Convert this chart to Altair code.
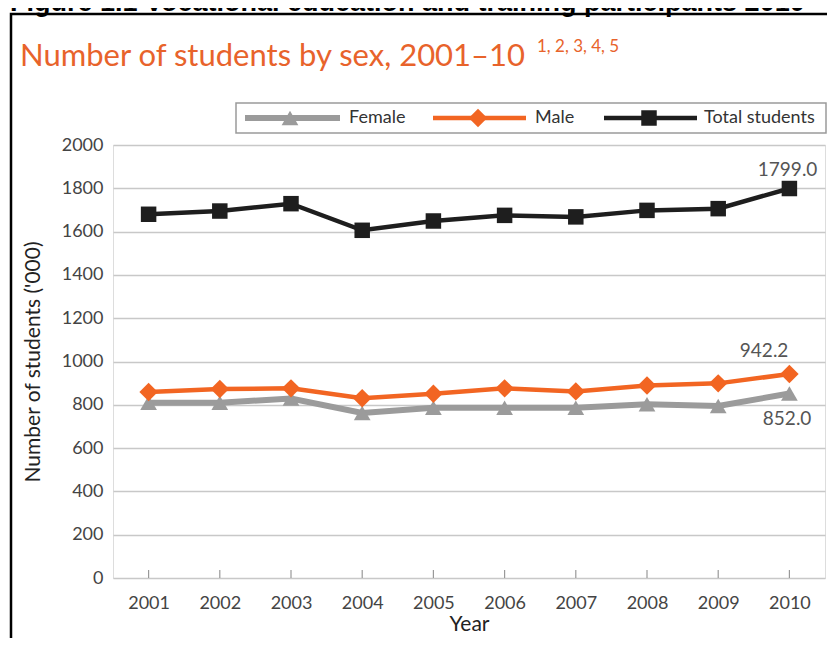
import altair as alt
import pandas as pd

years = ["2001", "2002", "2003", "2004", "2005", "2006", "2007", "2008", "2009", "2010"]
female = [810, 810, 829, 762, 786, 786, 786, 802, 795, 852.0]
male = [859, 873, 876, 830, 851, 876, 862, 889, 899, 942.2]
total = [1680, 1695, 1729, 1606, 1649, 1675, 1668, 1698, 1706, 1799.0]
series_names = ["Female", "Male", "Total students"]
y_ticks = list(range(0, 2001, 200))

rows = []
for name, vals in zip(series_names, [female, male, total]):
    for yr, v in zip(years, vals):
        rows.append({"year": yr, "value": v, "series": name})
df = pd.DataFrame(rows)
yr_df = pd.DataFrame({"year": years})
dummy = pd.DataFrame({"a": [0]})

FONT = "Lato"
W, H = 712, 433

X = alt.X("year:O", title="Year", sort=years,
          scale=alt.Scale(type="point", padding=0.5),
          axis=alt.Axis(labelAngle=0, labelAlign="center", ticks=False, domain=False, grid=False,
                        labelFontSize=18, labelColor="#444", labelFont=FONT,
                        labelPadding=16, titleFontSize=21, titleFont=FONT,
                        titleFontWeight="normal", titleColor="#222",
                        titleY=46, titleBaseline="middle"))
Y = alt.Y("value:Q", title="Number of students ('000)",
          scale=alt.Scale(domain=[0, 2000], nice=False),
          axis=alt.Axis(values=y_ticks, format="d", ticks=False, domain=False, grid=True,
                        gridColor="#c8c8c8", gridWidth=1.5,
                        labelFontSize=18, labelColor="#444", labelFont=FONT,
                        labelPadding=10, titleFontSize=21, titleFont=FONT,
                        titleFontWeight="normal", titleColor="#222",
                        titleX=-80, titleY=H / 2, titleBaseline="middle"))

styles = {
    "Female": ("#9b9b9b", "triangle-up", 280, 6),
    "Male": ("#f26522", "diamond", 340, 4.5),
    "Total students": ("#1e1e1e", "square", 240, 4.5),
}

layers = []

# outer frame
layers.append(alt.Chart(dummy).mark_rect(filled=False, stroke="black", strokeWidth=2.5).encode(
    x=alt.value(-102), x2=alt.value(800), y=alt.value(-131), y2=alt.value(600)))

# header text (cut at top, as in the source page)
layers.append(alt.Chart(dummy).mark_text(
    text="Figure 1.1    Vocational education and training participants 2010",
    font="Liberation Sans", fontSize=27, fontWeight="bold", color="black",
    align="left", baseline="alphabetic").encode(x=alt.value(-103), y=alt.value(-134)))

# title
layers.append(alt.Chart(dummy).mark_text(
    text="Number of students by sex, 2001\u201310", font=FONT, fontSize=31,
    color="#e8632b", align="left", baseline="alphabetic").encode(
    x=alt.value(-93), y=alt.value(-79)))
layers.append(alt.Chart(dummy).mark_text(
    text="1, 2, 3, 4, 5", font=FONT, fontSize=17,
    color="#e8632b", align="left", baseline="middle").encode(
    x=alt.value(424), y=alt.value(-98)))

# year ticks inside plot
layers.append(alt.Chart(yr_df).mark_rule(color="#999", strokeWidth=1.2).encode(
    x=X, y=alt.value(H), y2=alt.value(H - 8)))

# series
for name in series_names:
    color, shape, size, sw = styles[name]
    base = alt.Chart(df).transform_filter(alt.datum.series == name)
    layers.append(base.mark_line(color=color, strokeWidth=sw).encode(x=X, y=Y))
    layers.append(base.mark_point(shape=shape, filled=True, color=color, size=size,
                                  opacity=1).encode(x=X, y=Y))

# end value labels
label_pos = {"Total students": (28, -19), "Male": (-1, -23), "Female": (22, 25)}
for name in series_names:
    dx, dy = label_pos[name]
    layers.append(alt.Chart(df).transform_filter(
        (alt.datum.series == name) & (alt.datum.year == years[-1])
    ).mark_text(font=FONT, fontSize=19, color="#555", align="right",
                baseline="middle", dx=dx, dy=dy).encode(
        x=X, y=Y, text=alt.Text("value:Q", format=".1f")))

# legend
layers.append(alt.Chart(dummy).mark_rect(fill="white", stroke="#9a9a9a", strokeWidth=1.5).encode(
    x=alt.value(123), x2=alt.value(713), y=alt.value(-42), y2=alt.value(-12)))
leg = {"Female": (132, 227, 177, 236), "Male": (320, 413, 365, 422),
       "Total students": (491, 584, 536, 591)}
for name in series_names:
    color, shape, size, sw = styles[name]
    x1, x2, xm, xt = leg[name]
    layers.append(alt.Chart(dummy).mark_rule(color=color, strokeWidth=sw).encode(
        x=alt.value(x1), x2=alt.value(x2), y=alt.value(-27)))
    layers.append(alt.Chart(dummy).mark_point(shape=shape, filled=True, color=color,
                                              size=size, opacity=1).encode(
        x=alt.value(xm), y=alt.value(-27)))
    layers.append(alt.Chart(dummy).mark_text(text=name, font=FONT, fontSize=18,
                                             color="#333", align="left",
                                             baseline="middle").encode(
        x=alt.value(xt), y=alt.value(-27)))

chart = alt.layer(*layers).properties(
    width=W, height=H,
    autosize=alt.AutoSizeParams(type="none"),
    padding={"left": 105, "top": 137, "right": 2, "bottom": 60},
).configure_view(fill="#efefef", stroke="#b8b8b8", strokeWidth=1.5
).configure(background="white")

chart.save("out.html", embed_options={"renderer": "svg", "actions": False})
